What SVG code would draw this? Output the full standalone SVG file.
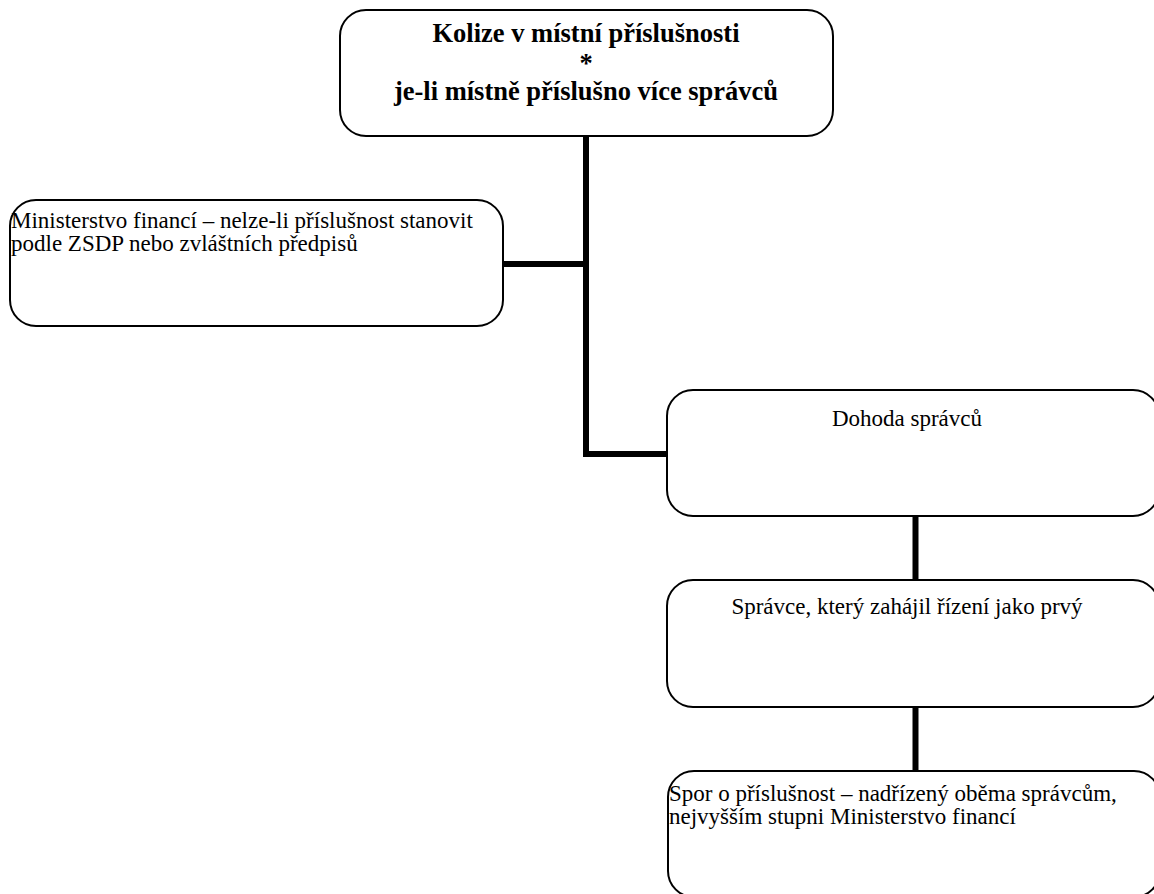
<svg xmlns="http://www.w3.org/2000/svg" width="1154" height="894" viewBox="0 0 1154 894">
<style>
.box{fill:#fff;stroke:#000;stroke-width:2}
.con{stroke:#000;stroke-width:6;fill:none}
.t{font-family:"Liberation Serif","Times New Roman",serif;font-size:23px;fill:#000}
.b{font-family:"Liberation Serif","Times New Roman",serif;font-size:26.5px;font-weight:bold;fill:#000}
</style>
<rect width="1154" height="894" fill="#fff"/>
<g id="connectors">
<path class="con" d="M586,136 V457"/>
<path class="con" d="M503,264 H586"/>
<path class="con" d="M586,454 H668"/>
<path class="con" d="M915.5,516 V580"/>
<path class="con" d="M915.5,707 V771"/>
</g>
<g id="n-top">
<rect class="box" x="340" y="10" width="493" height="126" rx="26"/>
<text class="b" x="586" y="42" text-anchor="middle">Kolize v místní příslušnosti</text>
<text class="b" x="586" y="72" text-anchor="middle">*</text>
<text class="b" x="586" y="100" text-anchor="middle">je-li místně příslušno více správců</text>
</g>
<g id="n-mf">
<rect class="box" x="10" y="200" width="493" height="126" rx="26"/>
<text class="t" x="11" y="228">Ministerstvo financí – nelze-li příslušnost stanovit</text>
<text class="t" x="11" y="251">podle ZSDP nebo zvláštních předpisů</text>
</g>
<g id="n-dohoda">
<rect class="box" x="667" y="390" width="492" height="126" rx="26"/>
<text class="t" x="907" y="426" text-anchor="middle">Dohoda správců</text>
</g>
<g id="n-spravce">
<rect class="box" x="667" y="580" width="492" height="127" rx="26"/>
<text class="t" x="907" y="614" text-anchor="middle">Správce, který zahájil řízení jako prvý</text>
</g>
<g id="n-spor">
<rect class="box" x="668" y="771" width="492" height="126" rx="26"/>
<text class="t" x="669" y="801">Spor o příslušnost – nadřízený oběma správcům,</text>
<text class="t" x="669" y="824">nejvyšším stupni Ministerstvo financí</text>
</g>
</svg>
